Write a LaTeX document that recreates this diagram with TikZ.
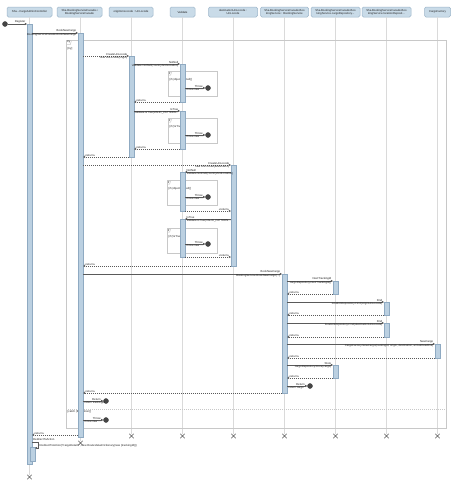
\documentclass[tikz,border=0pt]{standalone}
\usepackage{fontspec}
\setmainfont{Liberation Sans}
\usetikzlibrary{arrows.meta,shapes.misc}
\definecolor{headfill}{HTML}{C9DBE8}
\definecolor{headdraw}{HTML}{9DB6CA}
\definecolor{barfill}{HTML}{BBD0E1}
\definecolor{bardraw}{HTML}{8FAAC2}
\definecolor{lifec}{HTML}{DADADA}
\definecolor{framec}{HTML}{C8C8C8}
\definecolor{msgc}{HTML}{5A5A5A}
\definecolor{txtc}{HTML}{222222}
\definecolor{dotc}{HTML}{454545}
\tikzset{
 every node/.style={font=\fontsize{2.8}{3.3}\selectfont, text=txtc},
 head/.style={draw=headdraw, fill=headfill, rounded corners=1.5pt, minimum height=10, inner sep=0.5pt, align=center, line width=0.5pt},
 life/.style={draw=lifec, line width=0.6pt},
 actbar/.style={draw=bardraw, fill=barfill, line width=0.4pt},
 call/.style={draw=msgc, line width=0.6pt, -{Triangle[length=2.2pt,width=2.2pt]}},
 ret/.style={draw=msgc, line width=0.5pt, dash pattern=on 1pt off 1pt, -{Triangle[open,length=2.2pt,width=2.2pt]}},
 lbl/.style={inner sep=0.5pt},
 frm/.style={draw=framec, line width=0.5pt},
 dot/.style={circle, fill=dotc, draw=dotc, minimum size=5, inner sep=0},
 xmark/.style={cross out, draw=msgc, minimum size=4, inner sep=0, line width=0.5pt},
}
\newcommand{\callR}[6]{%
 \coordinate (#1s) at (#2,#4); \coordinate (#1e) at (#3,#4);
 \draw[call] (#1s) -- (#1e);
 \node[lbl,anchor=south east] (#1a) at ([xshift=-1pt]#1e) {#5};
 \node[lbl,anchor=north east] (#1b) at ([xshift=-1pt]#1e) {#6};}
\newcommand{\callL}[6]{%
 \coordinate (#1s) at (#2,#4); \coordinate (#1e) at (#3,#4);
 \draw[call] (#1s) -- (#1e);
 \node[lbl,anchor=south west] (#1a) at ([xshift=1pt]#1e) {#5};
 \node[lbl,anchor=north west] (#1b) at ([xshift=1pt]#1e) {#6};}
\newcommand{\createR}[6]{%
 \coordinate (#1s) at (#2,#4); \coordinate (#1e) at (#3,#4);
 \draw[ret] (#1s) -- (#1e);
 \node[lbl,anchor=south east] (#1a) at ([xshift=-1pt]#1e) {#5};
 \node[lbl,anchor=north east] (#1b) at ([xshift=-1pt]#1e) {#6};}
\newcommand{\retL}[4]{%
 \coordinate (#1s) at (#2,#4); \coordinate (#1e) at (#3,#4);
 \draw[ret] (#1s) -- (#1e);
 \node[lbl,anchor=south west] (#1a) at ([xshift=1pt]#1e) {«return»};}
\newcommand{\retR}[4]{%
 \coordinate (#1s) at (#2,#4); \coordinate (#1e) at (#3,#4);
 \draw[ret] (#1s) -- (#1e);
 \node[lbl,anchor=south east] (#1a) at ([xshift=-1pt]#1e) {«return»};}
\newcommand{\term}[6]{%
 \coordinate (#1s) at (#2,#4);
 \node[dot] (#1d) at (#3,#4) {};
 \draw[call] (#1s) -- (#1d);
 \node[lbl,anchor=south east] (#1a) at ([xshift=-2pt]#1d.west) {#5};
 \node[lbl,anchor=north west] (#1b) at ([xshift=1pt]#1s) {#6};}
\newcommand{\frag}[6]{%
 \draw[frm] (#2,#3) rectangle (#4,#5);
 \node[lbl,anchor=north west,inner sep=0.9pt] (#1t) at (#2,#3) {#6};
 \draw[frm] (#1t.south west) -- ([xshift=-1pt]#1t.south east) -- ([yshift=-1pt]#1t.north east) -- (#1t.north east);}
\newcommand{\actbar}[3]{\draw[actbar] (#1-2.5,#2) rectangle (#1+2.5,#3);}
\begin{document}
\begin{tikzpicture}[x=1pt,y=-1pt]
\useasboundingbox (0,0) rectangle (452,480);
\fill[white] (0,0) rectangle (452,480);
% headers
\node[head, minimum width=45] (h1) at (29.5,12) {Sha...CargoAdminController};
\node[head, minimum width=45] (h2) at (79.5,12) {Sha.BookingServiceFacade.i\\BookingServiceFacade};
\node[head, minimum width=44] (h3) at (131,12) {originUnLocode : UnLocode};
\node[head, minimum width=25] (h4) at (182.5,12) {Validate};
\node[head, minimum width=49] (h5) at (233,12) {destinationUnLocode :\\UnLocode};
\node[head, minimum width=48] (h6) at (284.5,12) {Sha.BookingServiceFacade.Boo\\kingService : BookingService};
\node[head, minimum width=49] (h7) at (335.5,12) {Sha.BookingServiceFacade.Boo\\kingService.cargoRepository...};
\node[head, minimum width=49] (h8) at (386.5,12) {Sha.BookingServiceFacade.Boo\\kingService.locationReposit...};
\node[head, minimum width=26] (h9) at (437.5,12) {CargoFactory};
% end markers
\node[xmark] (x1) at (29.5,477) {};
\node[xmark] (x2) at (80.5,443) {};
\node[xmark] (x3) at (131.5,436) {};
\node[xmark] (x4) at (182.5,436) {};
\node[xmark] (x5) at (233.5,436) {};
\node[xmark] (x6) at (284.5,436) {};
\node[xmark] (x7) at (335.5,436) {};
\node[xmark] (x8) at (386.5,436) {};
\node[xmark] (x9) at (437.5,436) {};
% lifelines
\draw[life] (h1.south -| x1) -- (x1);
\draw[life] (h2.south -| x2) -- (x2);
\draw[life] (h3.south -| x3) -- (x3);
\draw[life] (h4.south -| x4) -- (x4);
\draw[life] (h5.south -| x5) -- (x5);
\draw[life] (h6.south -| x6) -- (x6);
\draw[life] (h7.south -| x7) -- (x7);
\draw[life] (h8.south -| x8) -- (x8);
\draw[life] (h9.south -| x9) -- (x9);
% fragments
\frag{ftry}{66}{40}{446}{428}{try}
\node[lbl,anchor=west] (gtry) at (67,49) {[try]};
\draw[frm, dash pattern=on 1pt off 1pt] (66,409) -- (446,409);
\node[lbl,anchor=north west] (gcatch) at (67,410) {[catch (Exception)]};
\frag{fa}{168}{71}{217}{96}{if}
\node[lbl,anchor=west] (ga) at (169,79.5) {[if (object == null)]};
\frag{fb}{168}{118}{217}{143}{if}
\node[lbl,anchor=west] (gb) at (169,126.5) {[if (!isTrue)]};
\frag{fc}{167}{180}{217}{205}{if}
\node[lbl,anchor=west] (gc) at (168,188.5) {[if (object == null)]};
\frag{fd}{167}{228}{217}{253}{if}
\node[lbl,anchor=west] (gd) at (168,236.5) {[if (!isTrue)]};
% activation bars
\actbar{29.5}{24}{464}
\actbar{32.5}{447}{461}
\actbar{80.5}{33}{437}
\actbar{131.5}{56}{157}
\actbar{182.5}{64}{102}
\actbar{182.5}{111}{149}
\actbar{182.5}{172}{211}
\actbar{182.5}{219}{257}
\actbar{233.5}{165}{266}
\actbar{284.5}{274}{393}
\actbar{335.5}{281}{294}
\actbar{335.5}{365}{378}
\actbar{386.5}{302}{315}
\actbar{386.5}{323}{337}
\actbar{437.5}{344}{358}
% found message
\node[dot] (start) at (5,24) {};
\coordinate (m0e) at (27,24);
\draw[call] (start) -- (m0e);
\node[lbl,anchor=south east] (m0a) at ([xshift=-1pt]m0e) {Register};
% messages
\callR{m1}{32}{78}{33}{BookNewCargo}{BookingServiceFacade.BookNewCargo}
\createR{m2}{83}{129}{56}{CreateUnLocode}{new UnLocode(origin)}
\callR{m3}{134}{180}{64}{NotNull}{Validate.NotNull(countryAndLocation)}
\term{t1}{185}{208}{88}{Throw}{throw new ...}
\retL{m4}{180}{134}{102}
\callR{m5}{134}{180}{111}{IsTrue}{Validate.IsTrue(VALID\_PATTERN...}
\term{t2}{185}{208}{135}{Throw}{throw new ...}
\retL{m6}{180}{134}{149}
\retL{m7}{129}{83}{157}
\createR{m8}{83}{231}{165}{CreateUnLocode}{new UnLocode(destination)}
\callL{m9}{231}{185}{172}{NotNull}{Validate.NotNull(countryAndLocation)}
\term{t3}{185}{208}{197}{Throw}{throw new ...}
\retR{m10}{185}{231}{211}
\callL{m11}{231}{185}{219}{IsTrue}{Validate.IsTrue(VALID\_PATTERN...}
\term{t4}{185}{208}{244}{Throw}{throw new ...}
\retR{m12}{185}{231}{257}
\retL{m13}{231}{83}{266}
\callR{m14}{83}{282}{274}{BookNewCargo}{BookingService.BookNewCargo(...)}
\callR{m15}{287}{333}{281}{NextTrackingId}{cargoRepository.NextTrackingId()}
\retL{m16}{333}{287}{294}
\callR{m17}{287}{384}{302}{Find}{locationRepository.Find(originUnLocode)}
\retL{m18}{384}{287}{315}
\callR{m19}{287}{384}{323}{Find}{locationRepository.Find(destinationUnLocode)}
\retL{m20}{384}{287}{337}
\callR{m21}{287}{435}{344}{NewCargo}{CargoFactory.NewCargo(trackingId, origin, destination, arrivalDeadline)}
\retL{m22}{435}{287}{358}
\callR{m23}{287}{333}{365}{Store}{cargoRepository.Store(cargo)}
\retL{m24}{333}{287}{378}
\term{t5}{287}{310}{386}{Return}{return cargo}
\retL{m25}{282}{83}{393}
\term{t6}{83}{106}{401}{Return}{return trackingId}
\term{t7}{83}{106}{420}{Throw}{throw new ...}
\retL{m26}{78}{32}{435}
% self message
\coordinate (s1) at (32,442);
\coordinate (s2) at (35,448);
\draw[call] (s1) -- (38,442) -- (38,448) -- (s2);
\node[lbl,anchor=south west] (s1a) at (32.5,441.5) {RedirectToAction};
\node[lbl,anchor=west] (s1b) at (39,445.5) {RedirectToAction("CargoDetails", new RouteValueDictionary(new \{trackingId\}))};
\end{tikzpicture}
\end{document}
